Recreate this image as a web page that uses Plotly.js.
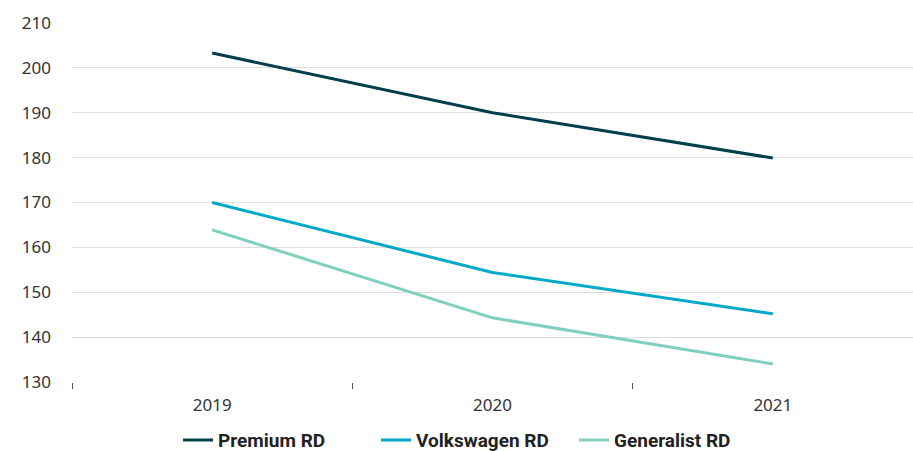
<!DOCTYPE html>
<html><head><meta charset="utf-8">
<script src="https://cdn.plot.ly/plotly-3.0.1.min.js"></script>
<style>html,body{margin:0;padding:0;background:#fff}#chart{width:913px;height:451px}</style>
</head><body><div id="chart"></div>
<script>
const years = ['2019', '2020', '2021'];
const premiumRD = [203.3, 190.0, 179.9];
const volkswagenRD = [170.0, 154.4, 145.2];
const generalistRD = [163.9, 144.3, 134.0];
const seriesNames = ['Premium RD', 'Volkswagen RD', 'Generalist RD'];
const colors = ['#003f4b', '#00a9c9', '#80d0c0'];
const yTicks = [130, 140, 150, 160, 170, 180, 190, 200, 210];

const data = [premiumRD, volkswagenRD, generalistRD].map((v, i) => ({
  type: 'scatter', mode: 'lines', x: years, y: v, name: seriesNames[i],
  line: {color: colors[i], width: 3}
}));

const layout = {
  width: 913, height: 451,
  margin: {l: 72, r: 0, t: 23, b: 69},
  paper_bgcolor: '#fff', plot_bgcolor: '#fff',
  font: {family: 'Noto Sans, sans-serif', size: 17, color: '#333'},
  showlegend: true,
  legend: {orientation: 'h', xref: 'container', yref: 'container',
    x: 0.195, xanchor: 'left', y: 0.024, yanchor: 'middle',
    font: {family: 'Roboto, sans-serif', size: 19, color: '#222', weight: 'bold'},
    itemwidth: 30, entrywidth: 153, entrywidthmode: 'pixels'},
  xaxis: {type: 'category', range: [-0.5, 2.5], tickson: 'boundaries', ticks: 'outside',
    ticklen: 6, tickcolor: '#555', tickwidth: 1, showgrid: false, showline: false,
    zeroline: false, fixedrange: true, ticklabelstandoff: 11,
    tickfont: {family: 'Noto Sans, sans-serif', size: 17, color: '#333'}},
  yaxis: {range: [130, 210], tickvals: yTicks, showgrid: true, gridcolor: '#dedede',
    gridwidth: 1, zeroline: false, showline: false, ticks: '', ticklabelstandoff: 20,
    tickfont: {family: 'Noto Sans, sans-serif', size: 17, color: '#333'}}
};
Plotly.newPlot('chart', data, layout, {staticPlot: true, displayModeBar: false});
</script></body></html>
